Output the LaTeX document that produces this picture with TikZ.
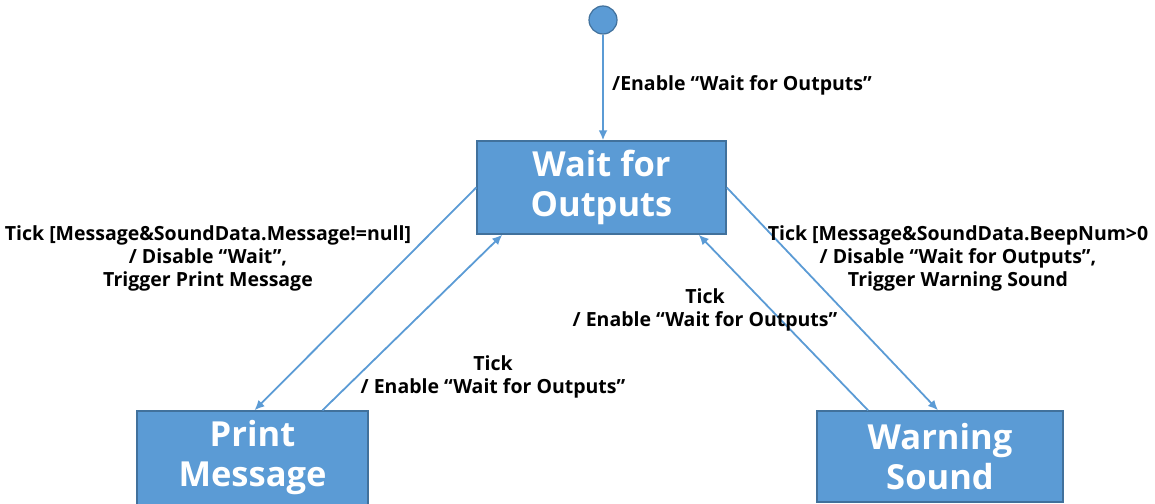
\documentclass[tikz,border=0pt]{standalone}
\usepackage{fontspec}
\setmainfont{Open Sans}
\usetikzlibrary{arrows.meta,calc}
\definecolor{boxfill}{HTML}{5B9BD5}
\definecolor{boxline}{HTML}{41719C}
\definecolor{arrowcol}{HTML}{5B9BD5}
\tikzset{
  state/.style={draw=boxline,line width=1.5pt,fill=boxfill,text=white,inner sep=0pt,
    font=\fontsize{34.5}{40}\selectfont\bfseries,align=center},
  trans/.style={draw=arrowcol,line width=1.8pt,-{Latex[length=10pt,width=9pt]}},
  lbl/.style={font=\fontsize{19.5}{23}\selectfont\bfseries,align=center,text=black,inner sep=0pt}
}
\begin{document}
\begin{tikzpicture}[x=1pt,y=-1pt]
\useasboundingbox (0,0) rectangle (1155,503);
\node[circle,draw=boxline,fill=boxfill,line width=1.2pt,minimum size=28pt,inner sep=0pt] (init) at (603,20) {};
\node[state,minimum width=249pt,minimum height=93pt] (wait) at (601.5,187.5) {Wait for\\Outputs};
\node[state,minimum width=231pt,minimum height=94pt] (print) at (252.5,458) {Print\\Message};
\node[state,minimum width=246pt,minimum height=91pt] (warn) at (940,456.5) {Warning\\Sound};

\draw[trans] (init) -- (wait.north -| init);
\draw[trans] (wait.west) -- ($(print.north)+(2,0)$);
\draw[trans] ($(print.north)+(70,0)$) -- ($(wait.south west)+(26,0)$);
\draw[trans] (wait.east) -- ($(warn.north)+(-2,0)$);
\draw[trans] ($(warn.north)+(-72,0)$) -- ($(wait.south east)+(-28,0)$);

\node[lbl,anchor=west] (l0) at (612,85) {/Enable “Wait for Outputs”};
\node[lbl] (l1) at (208,258) {Tick [Message\&SoundData.Message!=null]\\/ Disable “Wait”,\\Trigger Print Message};
\node[lbl] (l2) at (958,258) {Tick [Message\&SoundData.BeepNum>0\\/ Disable “Wait for Outputs”,\\Trigger Warning Sound};
\node[lbl] (l3) at (705,310) {Tick\\/ Enable “Wait for Outputs”};
\node[lbl] (l4) at (493,377) {Tick\\/ Enable “Wait for Outputs”};
\end{tikzpicture}
\end{document}
